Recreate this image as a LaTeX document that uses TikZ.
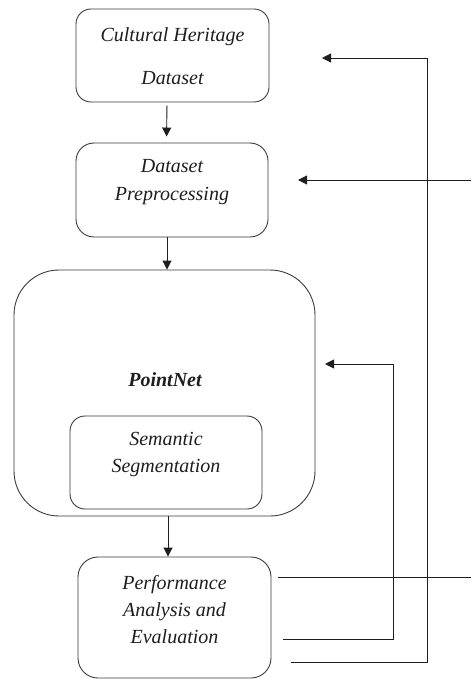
\documentclass[tikz,border=0pt]{standalone}
\usepackage{fontspec}
\setmainfont{Liberation Serif}
\usetikzlibrary{arrows.meta,calc}
\definecolor{edge}{HTML}{3A3A3A}
\definecolor{ink}{HTML}{1E1E1E}
\begin{document}
\begin{tikzpicture}[x=1pt,y=-1pt,
  box/.style={draw=edge,line width=0.9pt,rectangle,fill=white},
  lbl/.style={text=ink,align=center,inner sep=0pt,font=\fontsize{20}{28}\selectfont\itshape},
  flow/.style={draw=ink,line width=0.9pt,-{Triangle[length=9pt,width=9pt]}},
  wire/.style={draw=ink,line width=0.9pt}]
\useasboundingbox (0,0) rectangle (471,679);

% boxes of the pipeline
\node[box,rounded corners=15pt,minimum width=193pt,minimum height=93pt] (chd) at (172.5,55.5) {};
\node[lbl] (chdt) at ($(chd.center)+(0,1)$) {Cultural Heritage\\[15pt]Dataset};

\node[box,rounded corners=18pt,minimum width=192pt,minimum height=94pt] (pre) at (172,190) {};
\node[lbl] (pret) at ($(pre.center)+(0,-8)$) {Dataset\\Preprocessing};

\node[box,rounded corners=45pt,minimum width=301pt,minimum height=246pt] (pn) at (164.5,393) {};
\node[lbl,font=\fontsize{20}{28}\selectfont\bfseries\itshape] (pnt) at (165,380) {PointNet};
\node[box,rounded corners=15pt,minimum width=192pt,minimum height=93pt] (seg) at (166,462.5) {};
\node[lbl,font=\fontsize{20}{27}\selectfont\itshape] (segt) at ($(seg.center)+(0,-8)$) {Semantic\\Segmentation};

\node[box,rounded corners=20pt,minimum width=193pt,minimum height=121pt] (perf) at (174.5,617.5) {};
\node[lbl,font=\fontsize{20}{27}\selectfont\itshape] (perft) at ($(perf.center)+(0,-7.5)$) {Performance\\Analysis and\\Evaluation};

% forward flow
\draw[flow,shorten <=3pt,shorten >=6pt] ([xshift=-5.5pt]chd.south) -- ([xshift=-5.5pt]pre.north);
\draw[flow] ([xshift=-5pt]pre.south) -- ([xshift=-5pt]pre.south |- pn.north);
\draw[flow] ([xshift=3.5pt]pn.south) -- ([xshift=-6.5pt]perf.north);

% feedback lines
\coordinate (o1) at (278,577);
\coordinate (e1) at (471,577);
\coordinate (e2) at (471,180);
\coordinate (t2) at (298,180);
\coordinate (o2) at (283,639);
\coordinate (k2) at (393,639);
\coordinate (k3) at (393,364);
\coordinate (t3) at (325,364);
\coordinate (o3) at (291,662);
\coordinate (k4) at (427,662);
\coordinate (k5) at (427,58);
\coordinate (t4) at (322,58);

\draw[wire] (o1) -- (e1);
\draw[flow] (e2) -- (t2);
\draw[flow] (o2) -- (k2) -- (k3) -- (t3);
\draw[flow] (o3) -- (k4) -- (k5) -- (t4);
\end{tikzpicture}
\end{document}
